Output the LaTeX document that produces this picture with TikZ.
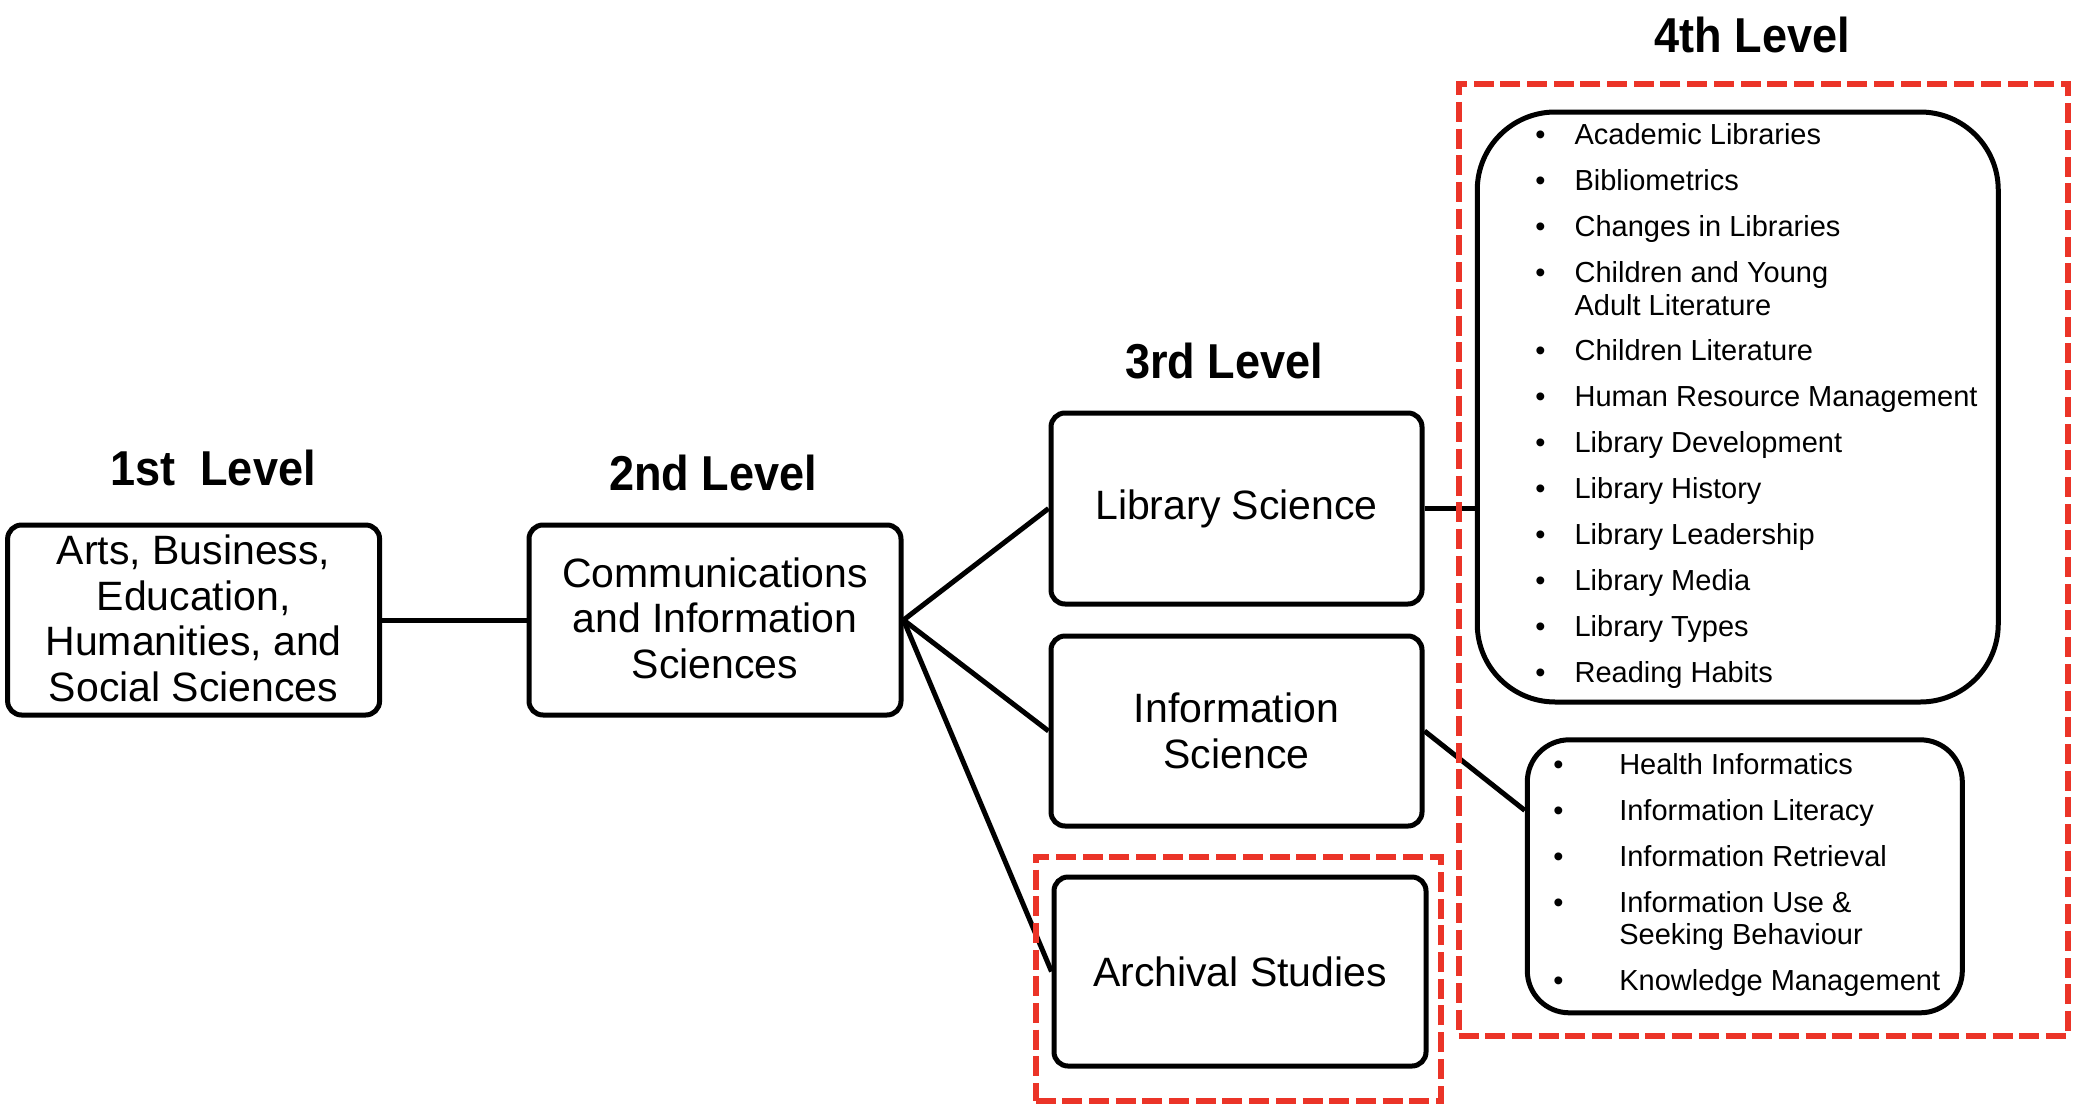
\documentclass[tikz,border=0pt]{standalone}
\usepackage{fontspec}
\setmainfont{Liberation Sans}
\usetikzlibrary{calc}
\definecolor{framered}{RGB}{235,52,40}
\newlength\bulw
\begin{document}
\begin{tikzpicture}[x=1pt,y=-1pt,
  lvl/.style={draw, line width=5pt, rounded corners=14pt, align=center, inner sep=0pt,
              font=\fontsize{41}{45.7}\selectfont},
  listbox/.style={draw, line width=5pt, inner sep=0pt, font=\fontsize{29}{32.5}\selectfont},
  heading/.style={anchor=base, inner sep=0pt, font=\fontsize{49}{55}\selectfont\bfseries},
  redframe/.style={draw=framered, line width=6pt, dash pattern=on 20pt off 6.7pt, inner sep=0pt},
  conn/.style={line width=5pt}]
\useasboundingbox (0,0) rectangle (2079,1111);

% headings
\node[heading] (h1) at (213,485) {\scalebox{0.92}[1]{1st\ \ Level}};
\node[heading] (h2) at (713,490) {\scalebox{0.92}[1]{2nd Level}};
\node[heading] (h3) at (1224,378) {\scalebox{0.92}[1]{3rd Level}};
\node[heading] (h4) at (1752.5,52) {\scalebox{0.92}[1]{4th Level}};

% level boxes
\node[lvl, minimum width=372pt, minimum height=190pt] (b1) at (193.6,620)
  {Arts, Business,\\Education,\\Humanities, and\\Social Sciences\rule[-4pt]{0pt}{0pt}};
\node[lvl, minimum width=372pt, minimum height=190pt] (b2) at (715,620)
  {Communications\\and Information\\Sciences\rule[-4pt]{0pt}{0pt}};
\node[lvl, minimum width=371pt, minimum height=191pt] (ls) at (1236.5,508.5)
  {Library Science};
\node[lvl, minimum width=371pt, minimum height=190pt] (is) at (1236.5,731)
  {Information\\Science};
\node[lvl, minimum width=372pt, minimum height=189pt] (as) at (1240,971.5)
  {Archival Studies};

% list boxes
\node[listbox, rounded corners=78pt, minimum width=521pt, minimum height=590pt] (lib) at (1737.75,407)
  {\makebox[521pt][l]{\hspace*{58pt}\setlength\bulw{39.3pt}\begin{tabular}{@{}l@{}}
   \makebox[\bulw][l]{•}Academic Libraries\\[13.4pt]
   \makebox[\bulw][l]{•}Bibliometrics\\[13.4pt]
   \makebox[\bulw][l]{•}Changes in Libraries\\[13.4pt]
   \makebox[\bulw][l]{•}Children and Young\\
   \makebox[\bulw][l]{}Adult Literature\\[13.4pt]
   \makebox[\bulw][l]{•}Children Literature\\[13.4pt]
   \makebox[\bulw][l]{•}Human Resource Management\\[13.4pt]
   \makebox[\bulw][l]{•}Library Development\\[13.4pt]
   \makebox[\bulw][l]{•}Library History\\[13.4pt]
   \makebox[\bulw][l]{•}Library Leadership\\[13.4pt]
   \makebox[\bulw][l]{•}Library Media\\[13.4pt]
   \makebox[\bulw][l]{•}Library Types\\[13.4pt]
   \makebox[\bulw][l]{•}Reading Habits
   \end{tabular}}};
\node[listbox, rounded corners=42pt, minimum width=435pt, minimum height=273pt] (inf) at (1744.8,876.3)
  {\makebox[435pt][l]{\hspace*{26pt}\setlength\bulw{66pt}\begin{tabular}{@{}l@{}}
   \makebox[\bulw][l]{•}Health Informatics\\[13.4pt]
   \makebox[\bulw][l]{•}Information Literacy\\[13.4pt]
   \makebox[\bulw][l]{•}Information Retrieval\\[13.4pt]
   \makebox[\bulw][l]{•}Information Use \&\\
   \makebox[\bulw][l]{}Seeking Behaviour\\[13.4pt]
   \makebox[\bulw][l]{•}Knowledge Management
   \end{tabular}}};

% connectors
\draw[conn] (b1.east) -- (b2.west);
\draw[conn] (b2.east) -- (ls.west);
\draw[conn] (b2.east) -- (is.west);
\draw[conn] (b2.east) -- (as.west);
\draw[conn] (ls.east) -- (ls.east -| lib.west);
\coordinate (islink) at ($(inf.north west)!0.263!(inf.south west)$);
\draw[conn] (is.east) -- (islink);

% red dashed frames
\node[redframe, minimum width=405.5pt, minimum height=244pt] (asframe) at (1238.25,978.5) {};
\node[redframe, minimum width=609.5pt, minimum height=952pt] (fourframe) at (1763.25,559.5) {};
\end{tikzpicture}
\end{document}
